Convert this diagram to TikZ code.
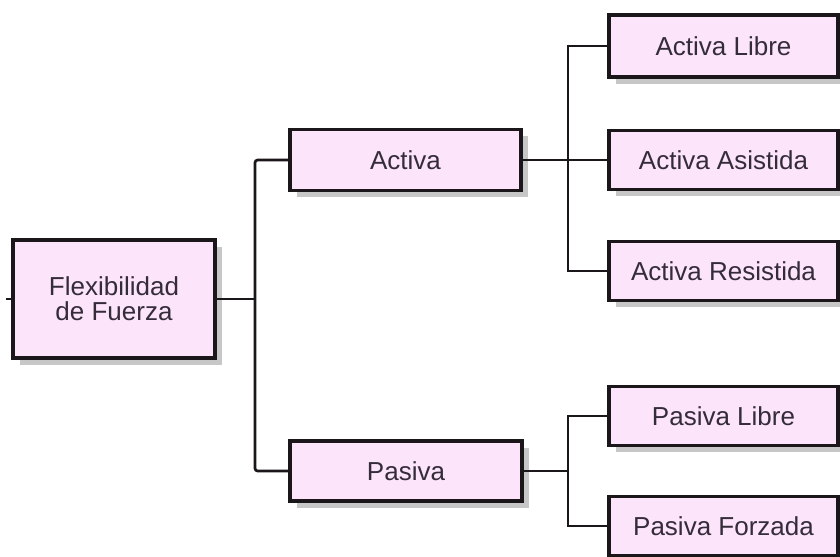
\documentclass[tikz,border=0pt]{standalone}
\usepackage{fontspec}
\setmainfont{Liberation Sans}
\usetikzlibrary{shadows}
\definecolor{boxpink}{HTML}{FCE4FA}
\definecolor{boxtext}{HTML}{352C3A}
\definecolor{boxline}{HTML}{1A161A}
\begin{document}
\begin{tikzpicture}[x=0.75pt,y=-0.75pt,
  box/.style={draw=boxline, line width=2.3pt, fill=boxpink, text=boxtext,
    font=\fontsize{19.5}{18.75}\selectfont, align=center, inner sep=0pt,
    drop shadow={shadow xshift=5pt, shadow yshift=-5pt, fill=black!22, opacity=1}},
  link/.style={draw=boxline, line width=2pt}]
\useasboundingbox (0,0) rectangle (840,557);
\fill[white] (0,0) rectangle (840,557);
% boxes
\node[box, minimum width=151.5pt, minimum height=88.5pt] (flex) at (114,299) {Flexibilidad\\de Fuerza};
\node[box, minimum width=173.25pt, minimum height=45.75pt] (act) at (405.5,160) {Activa};
\node[box, minimum width=174pt, minimum height=45pt] (pas) at (406,471) {Pasiva};
\node[box, minimum width=171.75pt, minimum height=46.5pt] (al) at (723.5,46) {Activa Libre};
\node[box, minimum width=171.75pt, minimum height=44.25pt] (aa) at (723.5,160) {Activa Asistida};
\node[box, minimum width=171.75pt, minimum height=44.25pt] (ar) at (723.5,271) {Activa Resistida};
\node[box, minimum width=171.75pt, minimum height=44.25pt] (pl) at (723.5,416) {Pasiva Libre};
\node[box, minimum width=171.75pt, minimum height=44.25pt] (pf) at (723.5,526) {Pasiva Forzada};
% trunks
\coordinate (t1) at (255,0);
\coordinate (t2) at (568,0);
% connectors
\draw[link] (flex.west) -- ++(-5,0);
\draw[link] (flex.east) -- (flex.east -| t1);
\draw[link, rounded corners=2pt] (act.west) -- (act.west -| t1) -- (pas.west -| t1) -- (pas.west);
\draw[link] (act.east) -- (aa.west);
\draw[link] (al.west) -- (al.west -| t2) -- (ar.west -| t2) -- (ar.west);
\draw[link] (pas.east) -- (pas.east -| t2);
\draw[link] (pl.west) -- (pl.west -| t2) -- (pf.west -| t2) -- (pf.west);
\end{tikzpicture}
\end{document}
